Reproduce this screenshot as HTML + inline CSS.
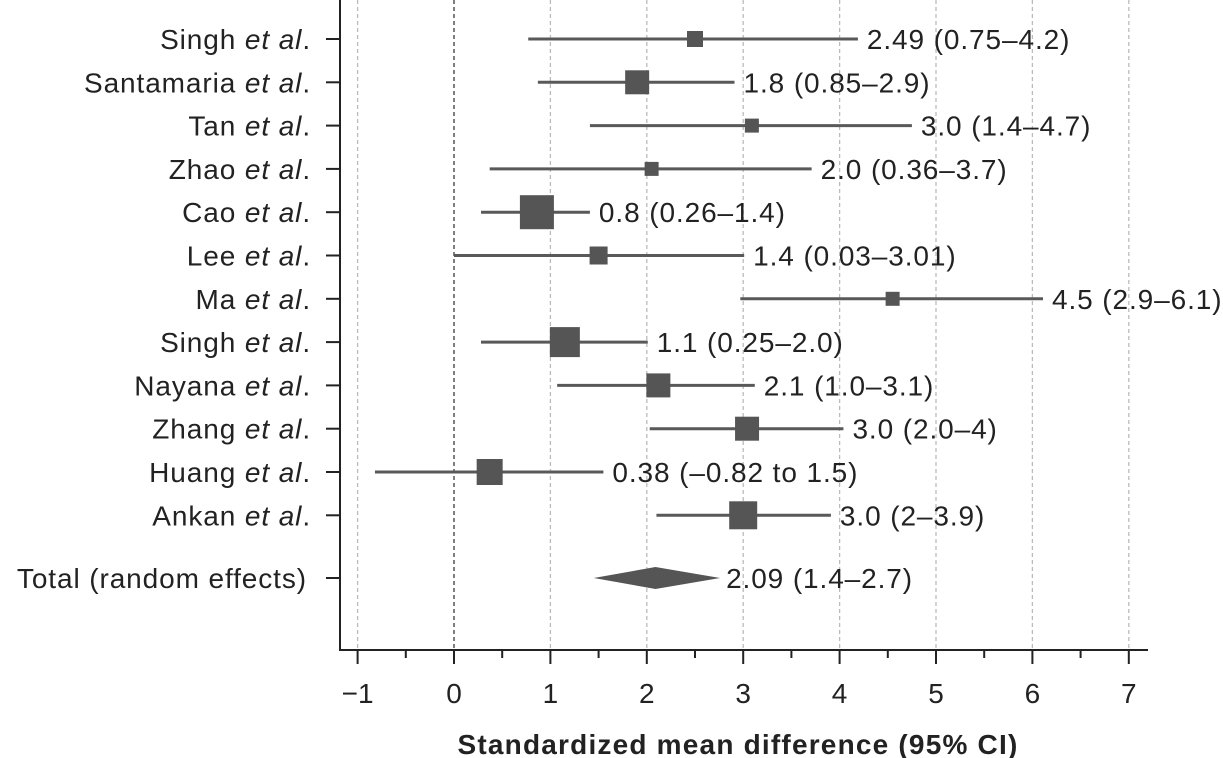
<!DOCTYPE html>
<html><head><meta charset="utf-8"><style>
body{margin:0;background:#fff}
svg{display:block;font-family:"Liberation Sans","DejaVu Sans",sans-serif}
</style></head><body>
<svg id="c" width="1223" height="758"></svg>
<script>
const studies=["Singh","Santamaria","Tan","Zhao","Cao","Lee","Ma","Singh","Nayana","Zhang","Huang","Ankan"];
const est=[2.5,1.9,3.09,2.05,0.86,1.5,4.55,1.15,2.12,3.04,0.37,3.0];
const lo=[0.77,0.87,1.41,0.37,0.28,0.0,2.97,0.28,1.07,2.03,-0.82,2.1];
const hi=[4.19,2.91,4.75,3.71,1.41,3.01,6.11,2.01,3.12,4.04,1.55,3.91];
const sizes=[16,24,14,14,34,18,14,30,24,24,26,28];
const labels=["2.49 (0.75–4.2)","1.8 (0.85–2.9)","3.0 (1.4–4.7)","2.0 (0.36–3.7)","0.8 (0.26–1.4)","1.4 (0.03–3.01)","4.5 (2.9–6.1)","1.1 (0.25–2.0)","2.1 (1.0–3.1)","3.0 (2.0–4)","0.38 (–0.82 to 1.5)","3.0 (2–3.9)"];
const total=[1.45,2.09,2.76];
const totalLabel="2.09 (1.4–2.7)";
const ticks=[-1,0,1,2,3,4,5,6,7];
const NS="http://www.w3.org/2000/svg";
const svg=document.getElementById('c');
const X=v=>454+v*96.4;
const Y=i=>39+i*43.3;
const TY=578;
const LS='0.9px';
function mk(t,a,p){const e=document.createElementNS(NS,t);for(const k in a)e.setAttribute(k,a[k]);(p||svg).appendChild(e);return e;}
ticks.forEach(t=>{
  const g=mk('line',{x1:X(t),x2:X(t),y1:0,y2:650,stroke:t===0?'#555':'#bbb','stroke-width':t===0?1.5:1.3,'stroke-dasharray':'4,3'});
  
  
  const tk=mk('line',{x1:X(t),x2:X(t),y1:650,y2:664,stroke:'#222','stroke-width':2});
  
  
  const tl=mk('text',{x:X(t),y:703,'text-anchor':'middle','font-size':28,fill:'#222'});
  tl.textContent=t<0?'−'+(-t):String(t);
  
  
  if(t<7){const m=mk('line',{x1:X(t+0.5),x2:X(t+0.5),y1:650,y2:658,stroke:'#222','stroke-width':2});
  
  }
});
const ax=mk('line',{x1:340,x2:1148,y1:650,y2:650,stroke:'#222','stroke-width':2});


const ay=mk('line',{x1:340,x2:340,y1:0,y2:651,stroke:'#222','stroke-width':2});


studies.forEach((s,i)=>{
  const y=Y(i);
  const t=mk('line',{x1:326,x2:340,y1:y,y2:y,stroke:'#222','stroke-width':2});
  
  
  const lb=mk('text',{x:311,y:y+10,'text-anchor':'end','font-size':28,fill:'#222','letter-spacing':LS});
  lb.innerHTML=s+' <tspan font-style="italic">et al</tspan>.';
  
  
  const ci=mk('line',{x1:X(lo[i]),x2:X(hi[i]),y1:y,y2:y,stroke:'#595959','stroke-width':3});
  
  
  const sz=sizes[i];
  const sq=mk('rect',{x:X(est[i])-sz/2,y:y-sz/2,width:sz,height:sz,fill:'#555'});
  
  
  const vl=mk('text',{x:X(hi[i])+9,y:y+10,'font-size':28,fill:'#222','letter-spacing':LS});
  vl.textContent=labels[i];
  
  
});
const tt=mk('line',{x1:326,x2:340,y1:TY,y2:TY,stroke:'#222','stroke-width':2});


const tlb=mk('text',{x:307,y:TY+10,'text-anchor':'end','font-size':28,fill:'#222','letter-spacing':LS});
tlb.textContent='Total (random effects)';


const d=mk('polygon',{points:`${X(total[0])},${TY} ${X(total[1])},${TY-11} ${X(total[2])},${TY} ${X(total[1])},${TY+11}`,fill:'#555'});


const dv=mk('text',{x:X(total[2])+6,y:TY+10,'font-size':28,fill:'#222','letter-spacing':LS});
dv.textContent=totalLabel;


const xt=mk('text',{x:738,y:754,'text-anchor':'middle','font-size':28,'font-weight':'bold',fill:'#222','letter-spacing':'1.2px'});
xt.textContent='Standardized mean difference (95% CI)';


</script>
</body></html>
